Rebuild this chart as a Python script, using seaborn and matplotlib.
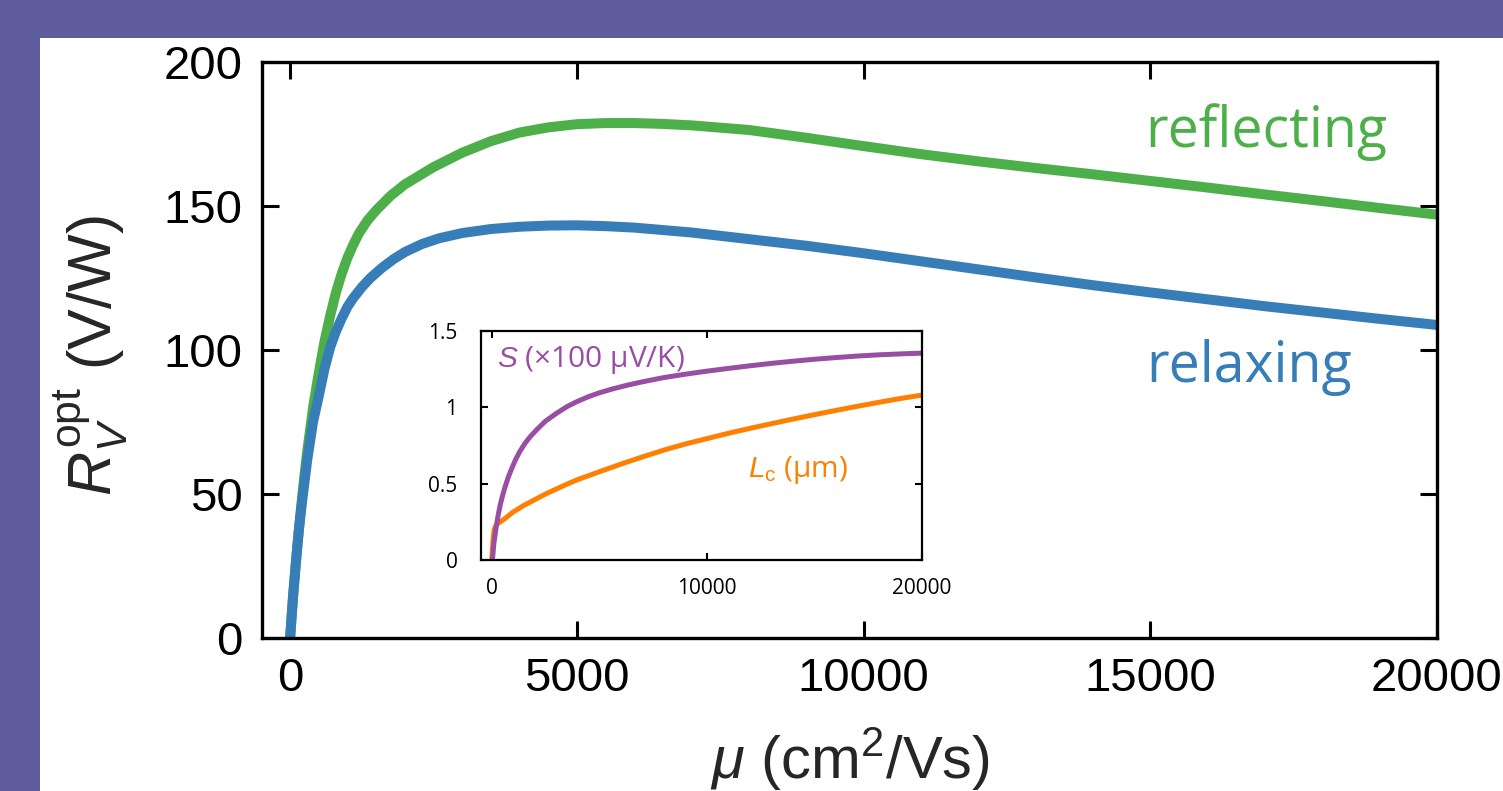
import matplotlib
matplotlib.use('Agg')
import matplotlib.pyplot as plt
import seaborn as sns
from matplotlib.patches import Rectangle

# main panel: responsivity vs mobility
mu_reflecting = [0, 50, 100, 150, 200, 250, 300, 400, 500, 600, 700, 800, 900, 1000,
                 1100, 1200, 1350, 1500, 1750, 2000, 2500, 3000, 3500, 4000, 4500,
                 5000, 5500, 6000, 6500, 7000, 8000, 9000, 10000, 11000, 12000,
                 13000, 14000, 15000, 16000, 17000, 18000, 19000, 20000]
r_reflecting = [0, 14, 26, 37, 47, 56.5, 65, 80, 92, 103, 112, 120, 126.5, 132,
                136.5, 140.5, 145, 148.5, 153.5, 157.5, 163.5, 168.5, 172.5, 175.5, 177.3,
                178.4, 178.8, 178.8, 178.5, 178, 176.4, 173.7, 170.8, 168, 165.5,
                163.2, 161, 158.7, 156.4, 154, 151.7, 149.3, 147]

mu_relaxing = [0, 50, 100, 150, 200, 250, 300, 400, 500, 600, 700, 800, 900, 1000,
               1100, 1250, 1400, 1600, 1800, 2000, 2300, 2600, 3000, 3500, 4000,
               4500, 5000, 5500, 6000, 7000, 8000, 9000, 10000, 11000, 12000,
               13000, 14000, 15000, 16000, 17000, 18000, 19000, 20000]
r_relaxing = [0, 14, 26, 37, 46, 54, 62, 75, 84, 93.5, 101, 106.5, 111, 115,
              118, 121.8, 125, 128.5, 131.5, 134, 136.8, 138.8, 140.6, 142, 142.8,
              143.2, 143.3, 143, 142.5, 140.8, 138.5, 136.2, 133.6, 130.8, 128,
              125.2, 122.5, 120, 117.6, 115.2, 113, 110.8, 108.7]

# inset: Seebeck coefficient (x100 uV/K) and cooling length (um)
mu_S = [30, 100, 200, 300, 400, 500, 600, 750, 900, 1100, 1300, 1550, 1800, 2100,
        2500, 3000, 3500, 4000, 4500, 5000, 5600, 6300, 7000, 8000, 9000, 10000,
        11000, 12000, 13000, 14000, 15000, 16000, 17000, 18000, 19000, 20000]
seebeck = [0, 0.11, 0.21, 0.295, 0.365, 0.42, 0.47, 0.535, 0.59, 0.655, 0.71, 0.765,
           0.81, 0.855, 0.91, 0.96, 1.005, 1.04, 1.07, 1.095, 1.12, 1.145, 1.167,
           1.195, 1.217, 1.237, 1.255, 1.272, 1.288, 1.302, 1.315, 1.326, 1.336,
           1.344, 1.35, 1.355]

mu_L = [0, 30, 60, 100, 150, 250, 400, 600, 1000, 1500, 2000, 2500, 3000, 3500,
        4000, 5000, 6000, 7000, 8000, 9000, 10000, 11000, 12000, 13000, 14000,
        15000, 16000, 17000, 18000, 19000, 20000]
cooling_len = [0, 0.07, 0.13, 0.19, 0.215, 0.235, 0.25, 0.27, 0.315, 0.358, 0.395,
               0.432, 0.465, 0.497, 0.527, 0.578, 0.628, 0.675, 0.72, 0.76, 0.795,
               0.83, 0.862, 0.893, 0.923, 0.952, 0.98, 1.007, 1.033, 1.058, 1.08]

main_xticks = [0, 5000, 10000, 15000, 20000]
main_yticks = [0, 50, 100, 150, 200]
inset_xticks = [0, 10000, 20000]
inset_yticks = [0, 0.5, 1, 1.5]
inset_ylabels = ['0', '0.5', '1', '1.5']

green = '#4daf4a'
blue = '#377eb8'
purple = '#984ea3'
orange = '#ff7f00'
frame = '#5f5d9d'

sns.set_theme(style='ticks')
plt.rcParams['font.family'] = ['Liberation Sans', 'DejaVu Sans']
plt.rcParams['mathtext.fontset'] = 'custom'
plt.rcParams['mathtext.rm'] = 'Liberation Sans'
plt.rcParams['mathtext.it'] = 'Liberation Sans:italic'

W, H = 1503, 791
fig = plt.figure(figsize=(W / 100, H / 100), dpi=100, facecolor=frame)
fig.patches.append(Rectangle((40 / W, 0), 1 - 40 / W, (H - 38) / H,
                             transform=fig.transFigure, facecolor='white',
                             edgecolor='none', zorder=-10))

ax = fig.add_axes([262 / W, (H - 638) / H, (1437 - 262) / W, (638 - 62) / H])
ax.set_facecolor('white')
sns.lineplot(x=mu_reflecting, y=r_reflecting, ax=ax, color=green, lw=7.2,
             solid_capstyle='butt', legend=False)
sns.lineplot(x=mu_relaxing, y=r_relaxing, ax=ax, color=blue, lw=7.2,
             solid_capstyle='butt', legend=False)
ax.set_xlim(-490, 20000)
ax.set_ylim(0, 200)
ax.set_xticks(main_xticks)
ax.set_yticks(main_yticks)
ax.tick_params(direction='in', length=12, width=2.2, labelsize=34, colors='black',
               top=True, right=True)
ax.tick_params(axis='x', pad=14)
ax.tick_params(axis='y', pad=14)
for s in ax.spines.values():
    s.set_linewidth(2.4)
    s.set_color('black')
ax.set_xlabel(r'$\mu$ (cm$^2$/Vs)', fontsize=43)
ax.set_ylabel(r'$R_V^{\mathrm{opt}}$ (V/W)', fontsize=44)
ax.xaxis.set_label_coords(0.5, -0.152)
ax.yaxis.set_label_coords(-0.112, 0.49)

ax.text(17020, 175.5, 'reflecting', color=green, fontsize=40, family=['Open Sans'],
        ha='center', va='center')
ax.text(16720, 94, 'relaxing', color=blue, fontsize=40, family=['Open Sans'],
        ha='center', va='center')

# inset
axi = fig.add_axes([481 / W, (H - 560) / H, (922 - 481) / W, (560 - 331) / H])
axi.set_facecolor('white')
sns.lineplot(x=mu_L, y=cooling_len, ax=axi, color=orange, lw=3.6,
             solid_capstyle='butt', legend=False)
sns.lineplot(x=mu_S, y=seebeck, ax=axi, color=purple, lw=3.6,
             solid_capstyle='butt', legend=False)
axi.set_xlim(-500, 20000)
axi.set_ylim(0, 1.5)
axi.set_xticks(inset_xticks)
axi.set_yticks(inset_yticks)
axi.set_yticklabels(inset_ylabels)
axi.tick_params(direction='in', length=5, width=1.5, labelsize=15, colors='black',
                top=True, right=True)
axi.tick_params(axis='x', pad=13)
axi.tick_params(axis='y', pad=17)
for lab in axi.get_xticklabels() + axi.get_yticklabels():
    lab.set_family(['Open Sans'])
for s in axi.spines.values():
    s.set_linewidth(1.6)
    s.set_color('black')

axi.text(0.036, 0.873, r'$S$ (×100 μV/K)', transform=axi.transAxes, color=purple,
         fontsize=21.5, family=['Open Sans', 'DejaVu Sans'], ha='left', va='center')
axi.text(0.605, 0.393, r'$L_{\mathrm{c}}$ (μm)', transform=axi.transAxes, color=orange,
         fontsize=21.5, family=['Open Sans', 'DejaVu Sans'], ha='left', va='center')

fig.savefig('out.png', dpi=100, facecolor=frame)
